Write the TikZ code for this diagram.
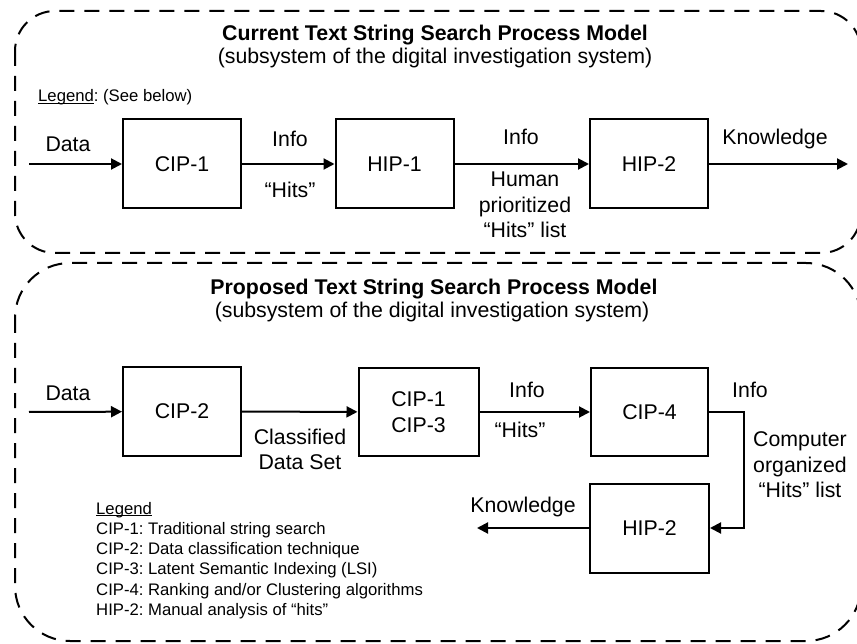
\documentclass[tikz,border=0pt]{standalone}
\usepackage{fontspec}
\setmainfont{Liberation Sans}
\usetikzlibrary{arrows.meta}
\frenchspacing
\newcommand\labelfont{\fontsize{21.3}{25.5}\selectfont}
\newcommand\legendfont{\fontsize{16.7}{20.2}\selectfont}
\newcommand\uline[1]{\setbox0\hbox{#1}\rlap{\rule[-1.8pt]{\wd0}{0.9pt}}\box0}
\tikzset{
	procbox/.style={draw, line width=2pt, inner sep=0pt, minimum width=118pt, minimum height=89pt, font=\labelfont, align=center},
	flow/.style={line width=2pt, -{Triangle[length=11pt, width=11pt]}},
	modelbox/.style={line width=2pt, dash pattern=on 15pt off 10pt},
	lbl/.style={inner sep=0pt, font=\labelfont, align=center},
}

\begin{document}
\begin{tikzpicture}[x=1pt, y=-1pt]
			%%%%% START %%%%%
			\useasboundingbox (0, 0) rectangle (857, 644);
			
			% current model
			\draw[modelbox, rounded corners=40pt] (15, 11) rectangle (861, 253);
			\node[lbl, anchor=base, font=\labelfont\bfseries] (curtitle) at (435, 41) {Current Text String Search Process Model};
			\node[lbl, anchor=base] (cursub) at (435, 64) {(subsystem of the digital investigation system)};
			\node[lbl, anchor=base west, font=\legendfont] (curlegend) at (38, 102) {\uline{Legend}: (See below)};
			
			\coordinate (curin) at (29, 164);
			\node[procbox] (cipA) at (182, 164) {CIP-1};
			\node[procbox] (hipA) at (394.5, 164) {HIP-1};
			\node[procbox] (hipB) at (649, 164) {HIP-2};
			\coordinate (curout) at (848, 164);
			
			\draw[flow] (curin) -- (cipA);
			\draw[flow] (cipA) -- (hipA);
			\draw[flow] (hipA) -- (hipB);
			\draw[flow] (hipB) -- (curout);
			
			\node[lbl, anchor=base] (curdata) at (68, 152) {Data};
			\node[lbl, anchor=base] (curinfoA) at (290, 147) {Info};
			\node[lbl, anchor=base] (curhits) at (290, 198) {``Hits''};
			\node[lbl, anchor=base] (curinfoB) at (521, 145) {Info};
			\node[lbl, anchor=north] (curlist) at (525, 171.7) {Human\\prioritized\\``Hits'' list};
			\node[lbl, anchor=base] (curknow) at (775, 145) {Knowledge};
			
			% proposed model
			\draw[modelbox, rounded corners=55pt] (15, 263) rectangle (861, 641);
			\node[lbl, anchor=base, font=\labelfont\bfseries] (protitle) at (434, 295) {Proposed Text String Search Process Model};
			\node[lbl, anchor=base] (prosub) at (432, 318) {(subsystem of the digital investigation system)};
			
			\coordinate (proin) at (29, 412);
			\node[procbox, minimum height=88pt] (cipB) at (182, 411.5) {CIP-2};
			\node[procbox, minimum height=88pt, minimum width=120pt] (cipC) at (418.5, 412) {CIP-1\\CIP-3};
			\node[procbox, minimum height=88pt, minimum width=117pt] (cipD) at (649.5, 412) {CIP-4};
			\node[procbox, minimum width=119pt] (hipC) at (649.5, 528) {HIP-2};
			\coordinate (proout) at (477, 528);
			
			\draw[flow] (proin) -- (cipB);
			\draw[flow] (cipB) -- (cipC);
			\draw[flow] (cipC) -- (cipD);
			\draw[flow] (cipD.east) -- ++(35, 0) |- (hipC.east);
			\draw[flow] (hipC) -- (proout);
			
			\node[lbl, anchor=base] (prodata) at (68, 400) {Data};
			\node[lbl, anchor=north] (proclass) at (300, 428.5) {Classified\\Data Set};
			\node[lbl, anchor=base] (proinfoA) at (527, 397) {Info};
			\node[lbl, anchor=base] (prohits) at (520, 437) {``Hits''};
			\node[lbl, anchor=base] (proinfoB) at (750, 397) {Info};
			\node[lbl, anchor=north] (prolist) at (800, 431.5) {Computer\\organized\\``Hits'' list};
			\node[lbl, anchor=base] (proknow) at (523, 512) {Knowledge};
			
			\node[lbl, anchor=north west, align=left, font=\legendfont] (prolegend) at (96, 502) {\uline{Legend}\\
				CIP-1: Traditional string search\\
				CIP-2: Data classification technique\\
				CIP-3: Latent Semantic Indexing (LSI)\\
				CIP-4: Ranking and/or Clustering algorithms\\
				HIP-2: Manual analysis of ``hits''};
			
			%%%%% END %%%%%
\end{tikzpicture}
\end{document}
